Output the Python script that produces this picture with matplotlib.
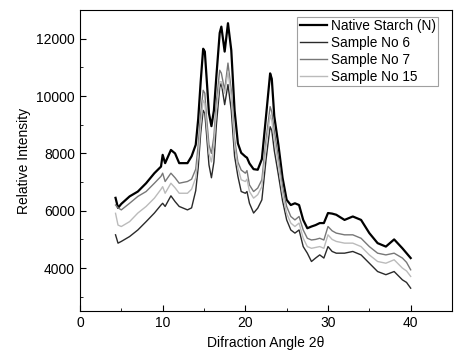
import matplotlib
matplotlib.use("Agg")
import matplotlib.pyplot as plt
from matplotlib.ticker import MultipleLocator

plt.rcParams['font.family'] = ['Liberation Sans', 'DejaVu Sans']

# diffraction angle (2 theta), shared by all curves
angle = [4.3, 4.6, 5, 6, 7, 8, 9, 9.8, 10, 10.3, 11, 11.5, 12, 13, 13.5, 14,
         14.3, 14.6, 14.9, 15.1, 15.3, 15.6, 15.9, 16.2, 16.5, 16.9, 17.1, 17.5,
         17.9, 18.3, 18.7, 19.1, 19.5, 20, 20.2, 20.5, 21, 21.5, 22, 22.5, 23,
         23.2, 23.5, 24, 24.5, 25, 25.5, 26, 26.5, 27, 27.5, 28, 28.5, 29, 29.5,
         30, 30.5, 31, 32, 33, 34, 35, 36, 37, 38, 39, 39.5, 40]

native = [6450, 6100, 6240, 6500, 6670, 6960, 7310, 7540, 7950, 7660, 8120, 8000,
          7660, 7660, 7900, 8300,
          9200, 10500, 11650, 11550, 10700, 9400, 8950, 9500, 10700, 12200, 12420,
          11550, 12540, 11600, 9500, 8350, 8020, 7890, 7850, 7650, 7450, 7430, 7800,
          9280, 10790, 10600, 9300, 8300, 7150, 6380, 6200, 6260, 6200, 5680, 5390,
          5450, 5500, 5570, 5570, 5920, 5900, 5860, 5680, 5800, 5680, 5220, 4870,
          4750, 5000, 4690, 4520, 4350]

sample6 = [5160, 4870, 4930, 5100, 5330, 5620, 5920, 6200, 6260, 6150, 6520, 6320,
           6150, 6030, 6100, 6700,
           7500, 8700, 9500, 9400, 8700, 7600, 7150, 7700, 9000, 10300, 10450, 9700,
           10400, 9500, 7900, 7200, 6670, 6610, 6670, 6260, 5920, 6090, 6380, 7770,
           8930, 8800, 8100, 7250, 6350, 5680, 5330, 5220, 5330, 4750, 4520, 4230,
           4350, 4460, 4350, 4750, 4580, 4520, 4520, 4580, 4460, 4170, 3880, 3770,
           3880, 3590, 3500, 3300]

sample7 = [6200, 6100, 6030, 6260, 6500, 6670, 6960, 7200, 7310, 7020, 7310, 7150,
           6960, 7020, 7100, 7450,
           8300, 9400, 10200, 10100, 9300, 8300, 8000, 8600, 9800, 10900, 10800,
           10200, 11150, 10200, 8500, 7700, 7420, 7310, 7400, 6900, 6670, 6790, 7080,
           8470, 9630, 9450, 8800, 7850, 6850, 6150, 5800, 5680, 5800, 5330, 5040,
           4980, 5000, 5040, 4980, 5450, 5300, 5220, 5160, 5160, 5040, 4750, 4520,
           4460, 4520, 4350, 4200, 3940]

sample15 = [5910, 5500, 5450, 5620, 5920, 6150, 6440, 6750, 6840, 6610, 6960, 6800,
            6610, 6610, 6750, 7150,
            7900, 9000, 9850, 9750, 9000, 8000, 7700, 8300, 9500, 10500, 10500,
            10100, 10850, 10000, 8300, 7500, 7080, 7020, 7100, 6670, 6440, 6560,
            6840, 8240, 9340, 9150, 8500, 7600, 6600, 5910, 5570, 5450, 5570, 5040,
            4750, 4690, 4720, 4750, 4690, 5160, 5000, 4930, 4870, 4870, 4750, 4460,
            4230, 4170, 4290, 4000, 3900, 3710]

fig = plt.figure(figsize=(4.61, 3.58), dpi=100)
ax = fig.add_axes([0.1735, 0.131, 0.807, 0.841])

ax.plot(angle, native, color='black', lw=1.6, label='Native Starch (N)')
ax.plot(angle, sample6, color='#2a2a2a', lw=1.0, label='Sample No 6')
ax.plot(angle, sample7, color='#777777', lw=1.0, label='Sample No 7')
ax.plot(angle, sample15, color='#bbbbbb', lw=1.0, label='Sample No 15')

ax.set_xlim(0, 45)
ax.set_ylim(2500, 13000)
ax.xaxis.set_major_locator(MultipleLocator(10))
ax.xaxis.set_minor_locator(MultipleLocator(5))
ax.yaxis.set_major_locator(MultipleLocator(2000))
ax.yaxis.set_minor_locator(MultipleLocator(1000))
ax.tick_params(which='both', direction='in', top=False, right=False, labelsize=10)
ax.tick_params(which='major', length=4)
ax.tick_params(which='minor', length=2)

ax.set_xlabel('Difraction Angle 2\u03b8', fontsize=10)
ax.set_ylabel('Relative Intensity', fontsize=10)

leg = ax.legend(loc='upper right', bbox_to_anchor=(0.962, 0.977), fontsize=9.8,
                frameon=True, fancybox=False, edgecolor='#888888',
                labelspacing=0.22, handlelength=2.0, borderpad=0.15,
                handletextpad=0.3, borderaxespad=0)
leg.get_frame().set_linewidth(0.8)

fig.savefig('out.png', dpi=100)
